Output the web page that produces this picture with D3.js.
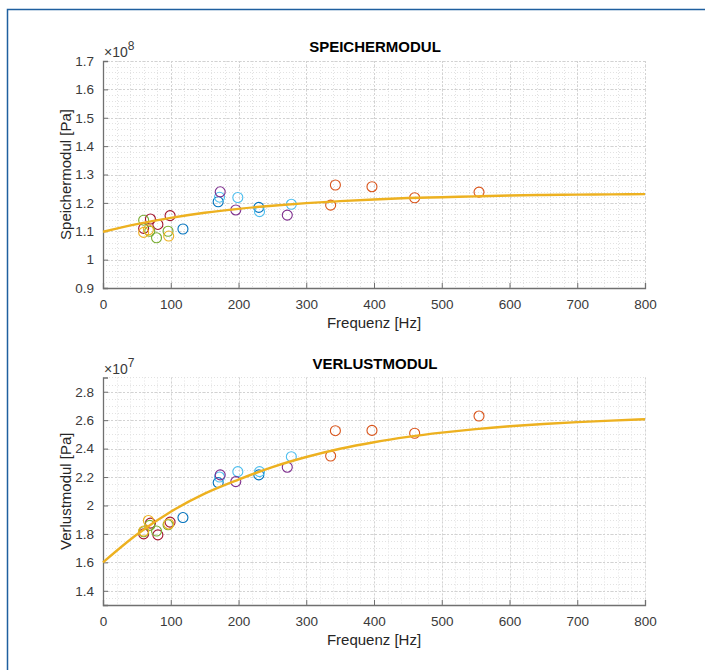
<!DOCTYPE html>
<html>
<head>
<meta charset="utf-8">
<script src="https://cdn.jsdelivr.net/npm/d3@7"></script>
<style>
  html, body { margin: 0; padding: 0; background: #fff; }
  svg { display: block; font-family: "Liberation Sans", Arial, Helvetica, sans-serif; }
</style>
</head>
<body>
<svg id="fig" width="705" height="670"></svg>
<script>
// Measured samples: [frequency Hz, storage modulus Pa, loss modulus Pa]
const seriesBlue      = [[118, 1.108e8, 1.915e7], [170, 1.204e8, 2.161e7], [230, 1.184e8, 2.215e7]];
const seriesLightBlue = [[172, 1.220e8, 2.200e7], [199, 1.219e8, 2.238e7], [231, 1.169e8, 2.238e7], [278, 1.195e8, 2.343e7]];
const seriesPurple    = [[173, 1.239e8, 2.215e7], [196, 1.175e8, 2.168e7], [272, 1.157e8, 2.269e7]];
const seriesOrange    = [[336, 1.192e8, 2.348e7], [343, 1.263e8, 2.526e7], [397, 1.257e8, 2.528e7], [460, 1.218e8, 2.508e7], [555, 1.238e8, 2.629e7]];
const seriesDarkRed   = [[60, 1.110e8, 1.800e7], [70, 1.143e8, 1.876e7], [81, 1.124e8, 1.793e7], [99, 1.155e8, 1.883e7]];
const seriesGreen     = [[60, 1.139e8, 1.815e7], [69, 1.100e8, 1.860e7], [79, 1.077e8, 1.820e7], [96, 1.100e8, 1.864e7]];
const seriesYellow    = [[60, 1.096e8, 1.820e7], [67, 1.105e8, 1.894e7], [97, 1.083e8, 1.870e7]];

// Fitted model curves
const fitFreq    = [0, 50, 100, 150, 200, 250, 300, 350, 400, 450, 500, 550, 600, 650, 700, 750, 800];
const fitStorage = [1.098, 1.125, 1.147, 1.165, 1.179, 1.190, 1.199, 1.206, 1.212, 1.217, 1.220, 1.223, 1.226, 1.228, 1.229, 1.230, 1.231].map(v => v * 1e8);
const fitLoss    = [1.600, 1.796, 1.956, 2.083, 2.182, 2.270, 2.341, 2.399, 2.445, 2.482, 2.512, 2.537, 2.557, 2.573, 2.586, 2.597, 2.606].map(v => v * 1e7);

// Axis ticks
const xTicks       = [0, 100, 200, 300, 400, 500, 600, 700, 800];
const storageTicks = [0.9, 1, 1.1, 1.2, 1.3, 1.4, 1.5, 1.6, 1.7];
const lossTicks    = [1.4, 1.6, 1.8, 2, 2.2, 2.4, 2.6, 2.8];

const seriesList = [
  { data: seriesBlue,      color: "#0072BD" },
  { data: seriesLightBlue, color: "#4DBEEE" },
  { data: seriesPurple,    color: "#7E2F8E" },
  { data: seriesOrange,    color: "#D95319" },
  { data: seriesDarkRed,   color: "#A2142F" },
  { data: seriesGreen,     color: "#77AC30" },
  { data: seriesYellow,    color: "#EDB120" }
];

const svg = d3.select("#fig");

// figure frame
svg.append("path")
  .attr("d", "M7.5,670 L7.5,9.5 L705,9.5")
  .attr("fill", "none")
  .attr("stroke", "#1f5f9f")
  .attr("stroke-width", 1.5);

function drawPanel(cfg) {
  const { top, bottom, left, right, yDomain, yTicks, yMinorStep, expo, valueIndex, fit, title, yLabel } = cfg;
  const k = Math.pow(10, expo);
  const x = d3.scaleLinear().domain([0, 800]).range([left, right]);
  const y = d3.scaleLinear().domain(yDomain.map(v => v * k)).range([bottom, top]);
  const g = svg.append("g");

  // minor grid
  const xMinor = d3.range(0, 800.001, 20);
  const yMinor = d3.range(yDomain[0], yDomain[1] + 1e-9, yMinorStep).map(v => v * k);
  g.append("g").selectAll("line").data(xMinor).join("line")
    .attr("x1", d => Math.round(x(d)) + 0.5).attr("x2", d => Math.round(x(d)) + 0.5)
    .attr("y1", top).attr("y2", bottom)
    .attr("stroke", "#e2e2e2").attr("stroke-width", 1).attr("stroke-dasharray", "1,2");
  g.append("g").selectAll("line").data(yMinor).join("line")
    .attr("y1", d => Math.round(y(d)) + 0.5).attr("y2", d => Math.round(y(d)) + 0.5)
    .attr("x1", left).attr("x2", right)
    .attr("stroke", "#e2e2e2").attr("stroke-width", 1).attr("stroke-dasharray", "1,2");
  // major grid
  g.append("g").selectAll("line").data(xTicks).join("line")
    .attr("x1", d => Math.round(x(d)) + 0.5).attr("x2", d => Math.round(x(d)) + 0.5)
    .attr("y1", top).attr("y2", bottom)
    .attr("stroke", "#d2d2d2").attr("stroke-width", 1).attr("stroke-dasharray", "2,2");
  g.append("g").selectAll("line").data(yTicks).join("line")
    .attr("y1", d => Math.round(y(d * k)) + 0.5).attr("y2", d => Math.round(y(d * k)) + 0.5)
    .attr("x1", left).attr("x2", right)
    .attr("stroke", "#d2d2d2").attr("stroke-width", 1).attr("stroke-dasharray", "2,2");

  // axes
  const fmt = d => d3.format("~g")(+(d / k).toFixed(4));
  const xAxis = g.append("g").attr("transform", `translate(0,${bottom})`)
    .call(d3.axisBottom(x).tickValues(xTicks).tickSize(-5).tickPadding(11).tickFormat(d3.format("d")));
  const yAxis = g.append("g").attr("transform", `translate(${left},0)`)
    .call(d3.axisLeft(y).tickValues(yTicks.map(v => v * k)).tickSize(-5).tickPadding(9).tickFormat(fmt));
  [xAxis, yAxis].forEach(a => {
    a.select(".domain").attr("stroke", "#707070").attr("stroke-width", 1.3);
    a.selectAll(".tick line").attr("stroke", "#707070");
    a.selectAll("text").attr("fill", "#3a3a3a").style("font-size", "13.5px")
      .style("font-family", "'Liberation Sans', Arial, sans-serif");
  });

  // data markers
  seriesList.forEach(s => {
    g.append("g").selectAll("circle").data(s.data).join("circle")
      .attr("cx", d => x(d[0]))
      .attr("cy", d => y(d[valueIndex]))
      .attr("r", 5)
      .attr("fill", "none")
      .attr("stroke", s.color)
      .attr("stroke-width", 1.1);
  });

  // fitted curve
  const line = d3.line().x((d, i) => x(fitFreq[i])).y(d => y(d)).curve(d3.curveMonotoneX);
  g.append("path").datum(fit)
    .attr("d", line)
    .attr("fill", "none")
    .attr("stroke", "#EDB120")
    .attr("stroke-width", 2.4);

  // exponent
  const ex = g.append("text").attr("x", left + 1).attr("y", top - 4)
    .attr("fill", "#3a3a3a").style("font-size", "14px");
  ex.append("tspan").text("\u00d710");
  ex.append("tspan").attr("dy", -7).style("font-size", "12px").text(String(expo));

  // title
  g.append("text").attr("x", (left + right) / 2 + 1).attr("y", top - 9)
    .attr("text-anchor", "middle").attr("fill", "#000")
    .style("font-size", "15px").style("font-weight", "bold").text(title);

  // axis labels
  g.append("text").attr("x", (left + right) / 2).attr("y", bottom + 40)
    .attr("text-anchor", "middle").attr("fill", "#262626")
    .style("font-size", "15px").text("Frequenz [Hz]");
  g.append("text")
    .attr("transform", `translate(${left - 32},${(top + bottom) / 2}) rotate(-90)`)
    .attr("text-anchor", "middle").attr("fill", "#262626")
    .style("font-size", "15px").text(yLabel);
}

drawPanel({
  top: 61, bottom: 288, left: 103, right: 645,
  yDomain: [0.9, 1.7], yTicks: storageTicks, yMinorStep: 0.02, expo: 8, valueIndex: 1,
  fit: fitStorage, title: "SPEICHERMODUL", yLabel: "Speichermodul [Pa]"
});

drawPanel({
  top: 377.5, bottom: 605, left: 103, right: 645,
  yDomain: [1.3, 2.9], yTicks: lossTicks, yMinorStep: 0.05, expo: 7, valueIndex: 2,
  fit: fitLoss, title: "VERLUSTMODUL", yLabel: "Verlustmodul [Pa]"
});
</script>
</body>
</html>
